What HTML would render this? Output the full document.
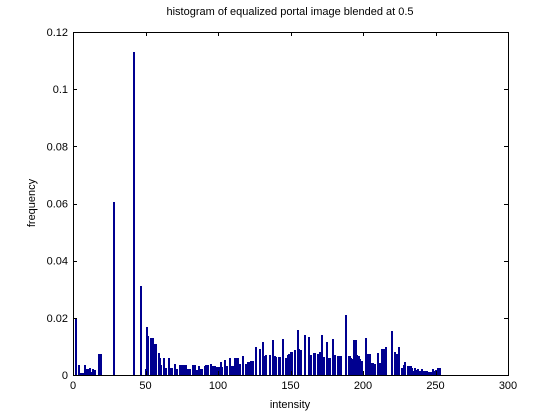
<!DOCTYPE html>
<html><head><meta charset="utf-8"><style>
body{margin:0;background:#fff;}
svg{display:block;font-family:"Liberation Sans",Arial,sans-serif;}
</style></head><body>
<svg id="chart" width="560" height="420" viewBox="0 0 560 420" xmlns="http://www.w3.org/2000/svg">
<rect x="0" y="0" width="560" height="420" fill="#fff"/>
<rect x="73" y="32" width="435" height="343" fill="#fff"/>
<g id="bars" shape-rendering="crispEdges"></g>
<g id="axes"></g>
<text x="290" y="15" font-size="11" text-anchor="middle">histogram of equalized portal image blended at 0.5</text>
<text x="290" y="408" font-size="11" text-anchor="middle">intensity</text>
<text x="0" y="0" font-size="11" text-anchor="middle" transform="translate(35,203) rotate(-90)">frequency</text>
</svg>
<script>
const intensities=[2,4,5,6,7,8,9,10,11,12,13,14,15,18,19,28,42,47,50,51,52,54,55,56,57,59,60,61,63,64,66,67,68,70,71,72,74,75,76,77,78,79,80,81,83,84,85,86,87,88,89,91,92,93,95,96,97,98,99,100,101,102,103,105,106,108,109,110,112,113,114,115,117,119,120,121,122,123,124,126,129,131,132,133,136,138,139,140,142,143,145,147,148,149,150,151,153,155,156,157,160,163,164,166,167,169,170,172,173,175,176,177,179,180,181,183,184,185,188,190,191,192,193,194,195,196,197,198,199,202,203,204,205,206,207,208,210,212,213,214,215,216,220,222,223,224,225,227,228,229,231,232,233,234,235,236,237,238,239,240,241,242,243,244,245,246,247,248,249,250,251,252,253];
const freqs=[0.020,0.0035,0.0008,0.0008,0.0008,0.0035,0.002,0.002,0.0015,0.0023,0.001,0.002,0.0018,0.0073,0.0073,0.0605,0.113,0.031,0.002,0.0168,0.0136,0.0129,0.0129,0.0108,0.0108,0.0077,0.006,0.0035,0.006,0.0026,0.006,0.0026,0.0026,0.0037,0.002,0.002,0.0035,0.0035,0.0035,0.0035,0.0035,0.002,0.002,0.002,0.0035,0.0035,0.0018,0.0018,0.003,0.002,0.002,0.003,0.0035,0.0035,0.0037,0.003,0.003,0.0031,0.0028,0.0028,0.0028,0.0045,0.0028,0.0052,0.003,0.0059,0.003,0.003,0.0059,0.0059,0.0059,0.0038,0.0066,0.004,0.004,0.0045,0.0045,0.0049,0.0049,0.0098,0.0091,0.0115,0.0066,0.007,0.007,0.0122,0.0066,0.0063,0.0063,0.0063,0.0126,0.0059,0.007,0.0073,0.008,0.008,0.0087,0.0157,0.0091,0.0087,0.014,0.0133,0.007,0.0077,0.0077,0.0073,0.008,0.014,0.0063,0.0115,0.0059,0.0059,0.0126,0.007,0.007,0.0066,0.0066,0.0066,0.021,0.0066,0.0066,0.0059,0.0056,0.0122,0.0122,0.007,0.0066,0.0056,0.0049,0.0129,0.0073,0.0073,0.0073,0.0042,0.0042,0.0038,0.0077,0.0042,0.009,0.009,0.009,0.0098,0.0154,0.008,0.0073,0.0073,0.0098,0.0024,0.0035,0.0045,0.0031,0.0031,0.0031,0.0024,0.0014,0.0024,0.0017,0.002,0.0014,0.0014,0.002,0.0014,0.0014,0.0014,0.0012,0.0012,0.0012,0.002,0.0014,0.0017,0.0017,0.0024,0.0024];
const xTicks=[0,50,100,150,200,250,300];
const yTicks=[0,0.02,0.04,0.06,0.08,0.1,0.12];
const yTickLabels=["0","0.02","0.04","0.06","0.08","0.1","0.12"];
const L=73,R=508,T=32,B=375;
const xs=v=>L+(v-0)/300*(R-L);
const ys=v=>B-(v/0.12)*(B-T);
const NS="http://www.w3.org/2000/svg";
const bars=document.getElementById('bars');
intensities.forEach((x,i)=>{
  const r=document.createElementNS(NS,'rect');
  const left=Math.round(xs(x)-1);
  const top=Math.round(ys(freqs[i]));
  r.setAttribute('x',left);
  r.setAttribute('y',top);
  r.setAttribute('width',2);
  r.setAttribute('height',B-top);
  r.setAttribute('fill','#000090');
  
  
  bars.appendChild(r);
});
const ax=document.getElementById('axes');
function line(x1,y1,x2,y2,name){
  const l=document.createElementNS(NS,'line');
  l.setAttribute('x1',x1);l.setAttribute('y1',y1);l.setAttribute('x2',x2);l.setAttribute('y2',y2);
  l.setAttribute('stroke','#000');l.setAttribute('stroke-width','1');
  
  
  ax.appendChild(l);
}
function text(x,y,s,anchor,name){
  const t=document.createElementNS(NS,'text');
  t.setAttribute('x',x);t.setAttribute('y',y);t.setAttribute('font-size','11');t.setAttribute('text-anchor',anchor);
  t.textContent=s;
  
  
  ax.appendChild(t);
}
line(L,B+0.5,R,B+0.5,'x-axis-line');
line(L,T+0.5,R,T+0.5,'top-border');
line(L+0.5,T,L+0.5,B+1,'y-axis-line');
line(R+0.5,T,R+0.5,B+1,'right-border');
xTicks.forEach(v=>{
  const x=Math.round(xs(v))+0.5;
  line(x,B,x,B-4,'x-tick');
  line(x,T,x,T+4,'x-tick-top');
  text(xs(v),B+14,String(v),'middle','x-tick-label');
});
yTicks.forEach((v,i)=>{
  const y=Math.round(ys(v))+0.5;
  line(L,y,L+4,y,'y-tick');
  line(R,y,R-4,y,'y-tick-right');
  text(L-5,ys(v)+4,yTickLabels[i],'end','y-tick-label');
});
</script>
</body></html>
